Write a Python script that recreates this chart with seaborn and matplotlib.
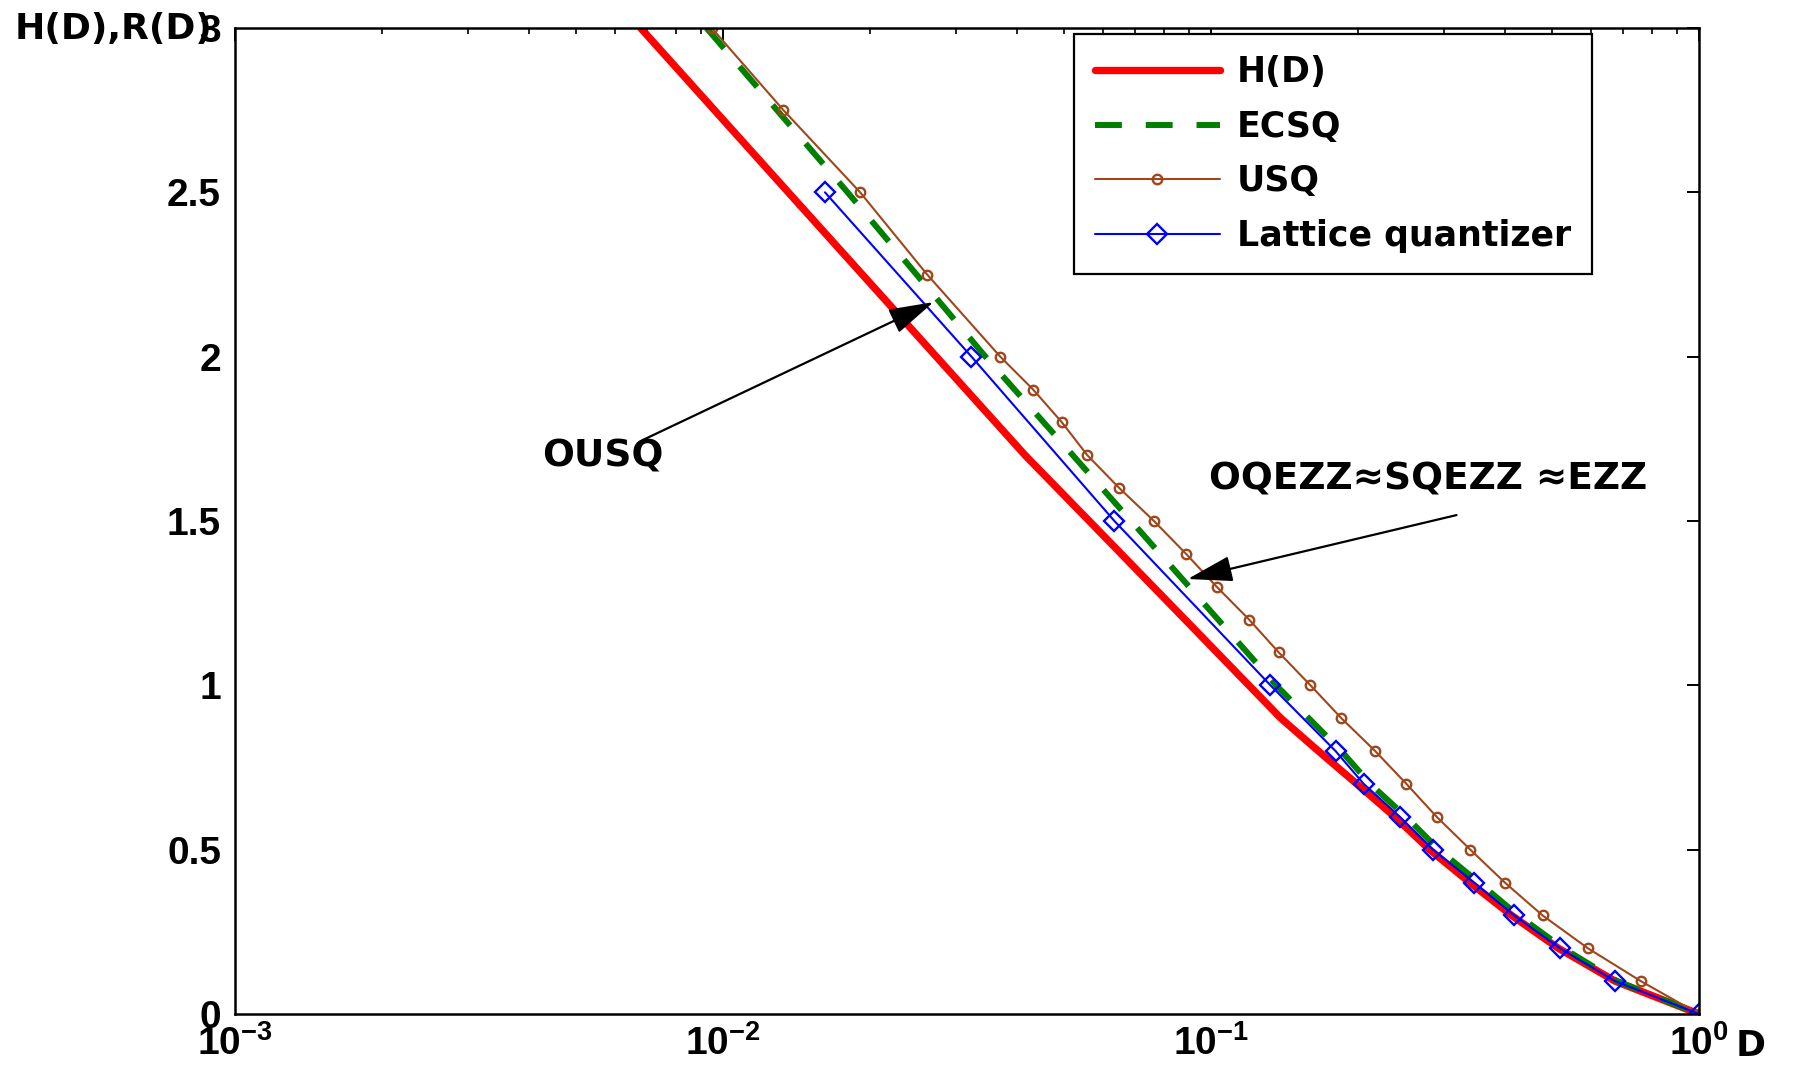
import numpy as np
import pandas as pd
import matplotlib
matplotlib.use("Agg")
import matplotlib.pyplot as plt
import seaborn as sns
from matplotlib.ticker import FixedLocator, FixedFormatter, LogLocator, NullFormatter

# Rate (bits) versus distortion D for each scheme
rate_h = [3.0, 2.5, 2.0, 1.7, 1.5, 1.2, 0.9, 0.8, 0.7, 0.6, 0.5, 0.4, 0.3, 0.2, 0.1, 0.0]
dist_h = [0.00678, 0.01361, 0.02736, 0.0416, 0.0563, 0.0885, 0.139, 0.166, 0.199, 0.238,
          0.2805, 0.339, 0.413, 0.515, 0.673, 1.0]

rate_ecsq = [3.0, 2.5, 2.0, 1.5, 1.0, 0.8, 0.7, 0.6, 0.5, 0.4, 0.3, 0.2, 0.1, 0.0]
dist_ecsq = [0.00925, 0.0180, 0.0345, 0.0686, 0.136, 0.185, 0.212, 0.251, 0.293, 0.354,
             0.426, 0.527, 0.680, 1.0]

rate_usq = [3.0, 2.75, 2.5, 2.25, 2.0, 1.9, 1.8, 1.7, 1.6, 1.5, 1.4, 1.3, 1.2, 1.1, 1.0,
            0.9, 0.8, 0.7, 0.6, 0.5, 0.4, 0.3, 0.2, 0.1, 0.0]
dist_usq = [0.00948, 0.0133, 0.0191, 0.0262, 0.0370, 0.0432, 0.0495, 0.0558, 0.0649, 0.0764,
            0.0889, 0.1027, 0.1197, 0.1377, 0.1599, 0.185, 0.217, 0.2515, 0.290, 0.340,
            0.400, 0.478, 0.592, 0.760, 1.0]

rate_lat = [2.5, 2.0, 1.5, 1.0, 0.8, 0.7, 0.6, 0.5, 0.4, 0.3, 0.2, 0.1, 0.0]
dist_lat = [0.01618, 0.0323, 0.0634, 0.1324, 0.180, 0.2056, 0.2438, 0.285, 0.346, 0.418,
            0.519, 0.673, 1.0]

series_names = ["H(D)", "ECSQ", "USQ", "Lattice quantizer"]
y_ticks = [0, 0.5, 1, 1.5, 2, 2.5, 3]
y_tick_labels = ["0", "0.5", "1", "1.5", "2", "2.5", "3"]
x_ticks = [1e-3, 1e-2, 1e-1, 1e0]
x_tick_labels = ["$10^{-3}$", "$10^{-2}$", "$10^{-1}$", "$10^{0}$"]

sns.set_style("white")
plt.rcParams["font.family"] = ["DejaVu Sans"]
plt.rcParams["text.color"] = "black"
plt.rcParams["axes.labelcolor"] = "black"
plt.rcParams["xtick.color"] = "black"
plt.rcParams["ytick.color"] = "black"
plt.rcParams["mathtext.fontset"] = "custom"
plt.rcParams["mathtext.rm"] = "Liberation Sans:bold"
plt.rcParams["mathtext.default"] = "rm"

W, H = 1798, 1086
fig = plt.figure(figsize=(W / 100, H / 100), dpi=100)
ax = fig.add_axes([235 / W, 1 - 1014 / H, (1699 - 235) / W, (1014 - 28) / H])

df_h = pd.DataFrame({"D": dist_h, "R": rate_h})
df_e = pd.DataFrame({"D": dist_ecsq, "R": rate_ecsq})
df_u = pd.DataFrame({"D": dist_usq, "R": rate_usq})
df_l = pd.DataFrame({"D": dist_lat, "R": rate_lat})

sns.lineplot(data=df_h, x="D", y="R", sort=False, estimator=None, ax=ax,
             color="#ff0000", lw=5.3, label=series_names[0])
sns.lineplot(data=df_e, x="D", y="R", sort=False, estimator=None, ax=ax,
             color="#008000", lw=4.3, label=series_names[1])
ax.lines[-1].set_dashes((4.5, 4.0))
sns.lineplot(data=df_u, x="D", y="R", sort=False, estimator=None, ax=ax,
             color="#a0461a", lw=1.5, marker="o", markersize=6.8,
             markerfacecolor="none", markeredgecolor="#a0461a", markeredgewidth=1.7,
             label=series_names[2])
sns.lineplot(data=df_l, x="D", y="R", sort=False, estimator=None, ax=ax,
             color="#0000ff", lw=1.5, marker="D", markersize=10,
             markerfacecolor="none", markeredgecolor="#0000ff", markeredgewidth=1.7,
             label=series_names[3])

ax.set_xscale("log")
ax.set_xlim(1e-3, 1)
ax.set_ylim(0, 3)
ax.xaxis.set_major_locator(FixedLocator(x_ticks))
ax.xaxis.set_major_formatter(FixedFormatter(x_tick_labels))
ax.xaxis.set_minor_locator(LogLocator(base=10, subs=np.arange(2, 10)))
ax.xaxis.set_minor_formatter(NullFormatter())
ax.yaxis.set_major_locator(FixedLocator(y_ticks))
ax.yaxis.set_major_formatter(FixedFormatter(y_tick_labels))
ax.set_xlabel("")
ax.set_ylabel("")

ax.tick_params(which="both", direction="in", top=True, right=True, colors="black",
               labelsize=28)
ax.tick_params(which="major", length=9, width=1.4)
ax.tick_params(which="minor", length=4.5, width=1.2)
ax.tick_params(axis="x", which="major", pad=8)
ax.tick_params(axis="y", which="major", pad=10)
for lbl in ax.get_xticklabels() + ax.get_yticklabels():
    lbl.set_fontfamily("Liberation Sans")
    lbl.set_fontweight("bold")
for sp in ax.spines.values():
    sp.set_visible(True)
    sp.set_color("black")
    sp.set_linewidth(1.8)

leg = ax.legend(loc="upper right", bbox_to_anchor=((1592 - 235) / 1464, (1014 - 34) / 986),
                borderaxespad=0, prop={"size": 25, "weight": "bold"}, frameon=True,
                fancybox=False, edgecolor="black", framealpha=1, handlelength=3.6,
                handletextpad=0.5, labelspacing=0.6, borderpad=0.6, numpoints=1)
leg.get_frame().set_linewidth(1.6)

# Annotations with filled arrow heads
arrow_kw = dict(arrowstyle="-|>,head_length=1.4,head_width=0.4", color="black",
                lw=1.6, shrinkA=0, shrinkB=0, mutation_scale=20)
ax.annotate("", xy=(0.0270, 2.166), xytext=(0.00684, 1.746), arrowprops=arrow_kw)
ax.text(0.00566, 1.695, "OUSQ", fontsize=27, fontweight="bold", ha="center", va="center")
ax.annotate("", xy=(0.0896, 1.3235), xytext=(0.3185, 1.518), arrowprops=arrow_kw)
ax.text(0.2785, 1.625, "OQEZZ\u2248SQEZZ \u2248EZZ", fontsize=27, fontweight="bold",
        ha="center", va="center")

fig.text(15 / W, 1 - 29 / H, "H(D),R(D)", fontsize=26, fontweight="bold",
         ha="left", va="center")
fig.text(1751 / W, 1 - 1046 / H, "D", fontsize=26, fontweight="bold",
         ha="center", va="center")

fig.savefig("out.png", dpi=100, facecolor="white")
